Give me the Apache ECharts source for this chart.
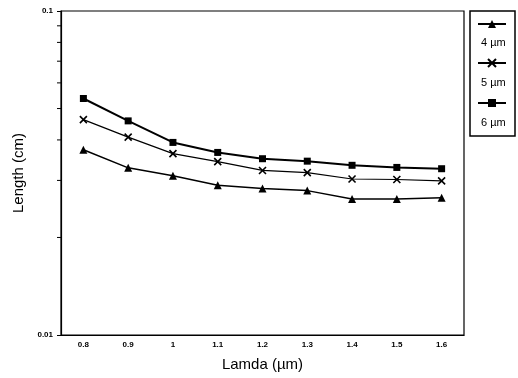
<!DOCTYPE html>
<html><head><meta charset="utf-8">
<script src="https://cdn.jsdelivr.net/npm/echarts@6/dist/echarts.min.js"></script>
<style>html,body{margin:0;padding:0;background:#fff}#c{width:518px;height:378px}</style>
</head><body><div id="c"></div>
<script>
const lamda = ['0.8','0.9','1','1.1','1.2','1.3','1.4','1.5','1.6'];
const len4 = [0.0373,0.0328,0.0310,0.0290,0.0283,0.0279,0.0263,0.0263,0.0265];
const len5 = [0.0462,0.0408,0.0363,0.0343,0.0322,0.0317,0.0303,0.0302,0.0299];
const len6 = [0.0537,0.0458,0.0393,0.0366,0.0350,0.0344,0.0334,0.0329,0.0326];
const seriesNames = ['4 µm','5 µm','6 µm'];
const yMinorTicks = [0.02,0.03,0.04,0.05,0.06,0.07,0.08,0.09];

const FONT = 'Liberation Sans';
const chart = echarts.init(document.getElementById('c'), null, {renderer:'canvas'});
const crossPath = 'path://M0,0L10,10M10,0L0,10';

chart.setOption({
  animation:false,
  backgroundColor:'#fff',
  textStyle:{fontFamily:FONT,color:'#000'},
  grid:{left:61,right:54,top:11,bottom:43,show:true,borderColor:'#000',borderWidth:1.2,backgroundColor:'transparent'},
  legend:[
    {data:seriesNames,orient:'vertical',left:470,top:11,itemWidth:28,itemHeight:10,itemGap:30,
     padding:[8,8,29,7],borderColor:'#000',borderWidth:1.5,formatter:function(){return '';},
     textStyle:{fontSize:1}},
    {data:seriesNames,orient:'vertical',left:475,top:37,itemWidth:0,itemHeight:0,itemGap:29,
     padding:0,icon:'rect',itemStyle:{opacity:0},lineStyle:{opacity:0},
     textStyle:{fontFamily:FONT,fontSize:11,color:'#000'}}
  ],
  xAxis:{type:'category',data:lamda,boundaryGap:true,
    name:'Lamda (µm)',nameLocation:'middle',nameGap:22,
    nameTextStyle:{fontFamily:FONT,fontSize:15,color:'#000'},
    axisLine:{lineStyle:{color:'#000',width:1.2}},
    axisTick:{alignWithLabel:true,length:3,lineStyle:{color:'#000'}},
    axisLabel:{fontFamily:FONT,fontSize:8,fontWeight:'bold',color:'#000',margin:6},
    splitLine:{show:false}},
  yAxis:{type:'log',logBase:10,min:0.01,max:0.1,
    name:'Length (cm)',nameLocation:'middle',nameGap:33,
    nameTextStyle:{fontFamily:FONT,fontSize:15,color:'#000'},
    axisLine:{show:true,lineStyle:{color:'#000',width:1.2}},
    axisTick:{show:true,length:4,lineStyle:{color:'#000'}},
    axisLabel:{fontFamily:FONT,fontSize:8,fontWeight:'bold',color:'#000',margin:8,
      formatter:function(v){return Math.abs(v-0.1)<1e-9?'0.1':(Math.abs(v-0.01)<1e-9?'0.01':'');}},
    splitLine:{show:false},minorTick:{show:false},minorSplitLine:{show:false}},
  series:[
    {name:seriesNames[0],type:'line',data:len4,symbol:'triangle',symbolSize:8,
     lineStyle:{color:'#000',width:1.5},itemStyle:{color:'#000'}},
    {name:seriesNames[1],type:'line',data:len5,symbol:crossPath,symbolSize:7,
     lineStyle:{color:'#000',width:1.2},itemStyle:{color:'#000',borderColor:'#000',borderWidth:1.6}},
    {name:seriesNames[2],type:'line',data:len6,symbol:'rect',symbolSize:7,
     lineStyle:{color:'#000',width:2},itemStyle:{color:'#000'}},
    {name:'minorTicks',type:'custom',clip:false,silent:true,
     data:yMinorTicks.map(function(v){return [0,v];}),
     renderItem:function(params,api){
       const p = api.coord([api.value(0),api.value(1)]);
       const x0 = params.coordSys.x;
       return {type:'line',shape:{x1:x0-4,y1:p[1],x2:x0,y2:p[1]},style:{stroke:'#000',lineWidth:1}};
     }}
  ]
});
</script></body></html>
